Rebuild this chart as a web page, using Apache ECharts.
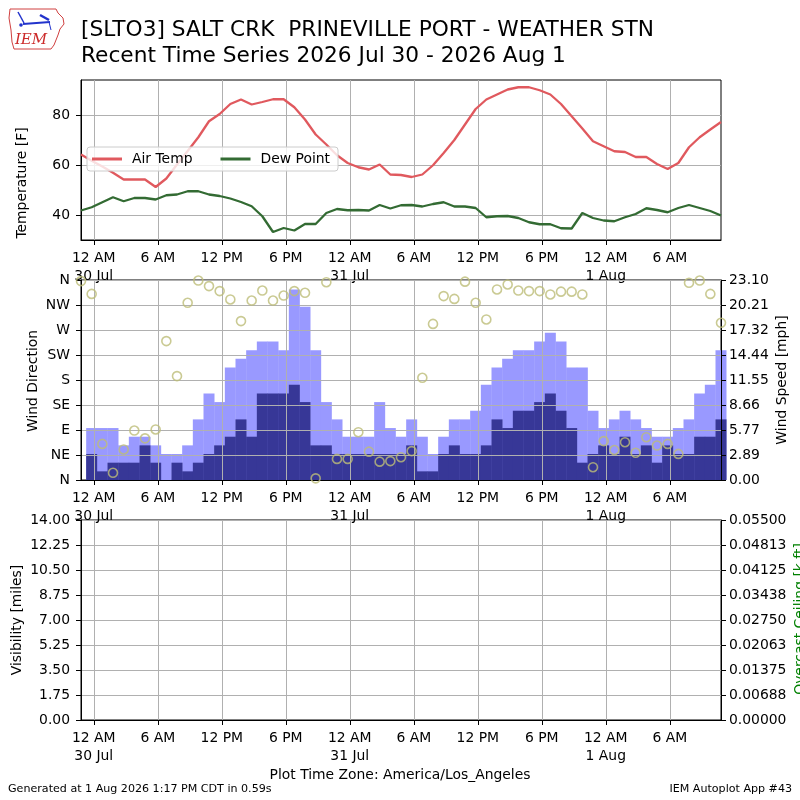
<!DOCTYPE html>
<html>
<head>
<meta charset="utf-8">
<script src="https://cdn.jsdelivr.net/npm/echarts@6/dist/echarts.min.js"></script>
<style>
html, body { margin: 0; padding: 0; background: #fff; }
#main { width: 800px; height: 800px; }
</style>
</head>
<body>
<div id="main"></div>
<script>
// observation times (local, America/Los_Angeles)
var obsTimes = [
    "07-29 22:48", "07-29 23:48",
    "07-30 00:48", "07-30 01:48", "07-30 02:48", "07-30 03:48", "07-30 04:48", "07-30 05:48",
    "07-30 06:48", "07-30 07:48", "07-30 08:48", "07-30 09:48", "07-30 10:48", "07-30 11:48",
    "07-30 12:48", "07-30 13:48", "07-30 14:48", "07-30 15:48", "07-30 16:48", "07-30 17:48",
    "07-30 18:48", "07-30 19:48", "07-30 20:48", "07-30 21:48", "07-30 22:48", "07-30 23:48",
    "07-31 00:48", "07-31 01:48", "07-31 02:48", "07-31 03:48", "07-31 04:48", "07-31 05:48",
    "07-31 06:48", "07-31 07:48", "07-31 08:48", "07-31 09:48", "07-31 10:48", "07-31 11:48",
    "07-31 12:48", "07-31 13:48", "07-31 14:48", "07-31 15:48", "07-31 16:48", "07-31 17:48",
    "07-31 18:48", "07-31 19:48", "07-31 20:48", "07-31 21:48", "07-31 22:48", "07-31 23:48",
    "08-01 00:48", "08-01 01:48", "08-01 02:48", "08-01 03:48", "08-01 04:48", "08-01 05:48",
    "08-01 06:48", "08-01 07:48", "08-01 08:48", "08-01 09:48", "08-01 10:48"
];
var airTemp = [64.3, 61.8, 59.5, 57.0, 54.3, 54.3, 54.3, 51.3, 54.7, 60.3,
    65.7, 71.2, 77.6, 80.5, 84.5, 86.3, 84.3, 85.3, 86.4, 86.4,
    83.2, 78.3, 72.3, 68.3, 64.0, 60.9, 59.2, 58.3, 60.3, 56.3,
    56.1, 55.3, 56.3, 60.0, 64.9, 70.1, 76.3, 82.5, 86.3, 88.3,
    90.3, 91.2, 91.2, 90.0, 88.3, 84.5, 79.6, 74.7, 69.6, 67.6,
    65.6, 65.3, 63.3, 63.3, 60.5, 58.5, 60.9, 67.2, 71.2, 74.3, 77.3];
var dewPoint = [41.9, 43.2, 45.2, 47.2, 45.6, 46.9, 46.9, 46.3, 48.0, 48.3,
    49.6, 49.6, 48.3, 47.7, 46.7, 45.3, 43.6, 39.6, 33.3, 34.9,
    33.9, 36.5, 36.5, 40.9, 42.5, 42.0, 42.1, 41.9, 44.1, 42.7,
    44.0, 44.1, 43.5, 44.5, 45.2, 43.5, 43.5, 42.9, 39.2, 39.6,
    39.7, 38.9, 37.2, 36.4, 36.4, 34.8, 34.7, 40.9, 38.9, 37.9,
    37.6, 39.2, 40.5, 42.8, 42.1, 41.2, 42.9, 44.1, 42.9, 41.7, 39.9];
var windSpeed = [0, 3, 1, 2, 2, 2, 4, 2, 0, 2,
    1, 2, 3, 4, 5, 7, 5, 10, 10, 10,
    11, 9, 4, 4, 3, 3, 3, 3, 3, 3,
    3, 4, 1, 1, 3, 4, 3, 3, 4, 7,
    6, 8, 8, 9, 10, 8, 6, 2, 3, 4,
    3, 5, 3, 4, 2, 4, 3, 3, 5, 5, 7];
var windGust = [0, 6, 6, 6, 4, 5, 5, 4, 3, 3,
    4, 7, 10, 9, 13, 14, 15, 16, 16, 15,
    22, 20, 15, 9, 7, 5, 5, 5, 9, 6,
    5, 7, 5, 3, 5, 7, 7, 8, 11, 13,
    14, 15, 15, 16, 17, 16, 13, 13, 8, 6,
    7, 8, 7, 6, 5, 5, 6, 7, 10, 11, 15];
var windDir = [358, 335, 65, 13, 55, 89, 75, 91, 250, 187,
    319, 359, 349, 340, 325, 286, 323, 341, 323, 332,
    340, 337, 3, 356, 38, 38, 86, 51, 33, 34,
    41, 52, 184, 281, 331, 326, 357, 319, 289, 343,
    352, 341, 340, 340, 334, 339, 339, 334, 23, 70,
    54, 68, 49, 77, 62, 65, 47, 355, 359, 335, 283];

// axis ticks and labels
var xTicks = [0, 6, 12, 18, 24, 30, 36, 42, 48, 54];
var xTickLabels = ["12 AM\n30 Jul", "6 AM", "12 PM", "6 PM", "12 AM\n31 Jul",
    "6 AM", "12 PM", "6 PM", "12 AM\n1 Aug", "6 AM"];
var tempTicks = [40, 60, 80];
var dirLabels = ["N", "NE", "E", "SE", "S", "SW", "W", "NW", "N"];
var speedLabels = ["0.00", "2.89", "5.77", "8.66", "11.55", "14.44", "17.32", "20.21", "23.10"];
var visLabels = ["0.00", "1.75", "3.50", "5.25", "7.00", "8.75", "10.50", "12.25", "14.00"];
var ceilLabels = ["0.00000", "0.00688", "0.01375", "0.02063", "0.02750", "0.03438", "0.04125", "0.04813", "0.05500"];

// hours since 30 Jul 00:00
function toHours(s) {
    var mo = parseInt(s.slice(0, 2), 10), d = parseInt(s.slice(3, 5), 10);
    var hh = parseInt(s.slice(6, 8), 10), mm = parseInt(s.slice(9, 11), 10);
    return (Date.UTC(2026, mo - 1, d, hh, mm) - Date.UTC(2026, 6, 30)) / 3600000;
}
var hrs = obsTimes.map(toHours);
function pairs(vals) {
    return vals.map(function(v, i) { return [hrs[i], v]; });
}

var FONT = "DejaVu Sans";
var gridColor = "#b0b0b0";

function timeAxis(gi, z) {
    return {
        type: "value",
        gridIndex: gi,
        min: -1.2,
        max: 58.8,
        z: z,
        axisLine: { show: true, onZero: false, lineStyle: { color: "#000", width: 1 } },
        axisTick: { show: true, length: 5, customValues: xTicks, lineStyle: { color: "#000", width: 1 } },
        axisLabel: {
            customValues: xTicks,
            color: "#000",
            fontSize: 13.9,
            fontFamily: FONT,
            lineHeight: 18,
            margin: 9,
            formatter: function(v) {
                return xTickLabels[xTicks.indexOf(v)];
            }
        },
        splitLine: { show: true, lineStyle: { color: gridColor, width: 1 } }
    };
}

function lblAxis(gi, pos, min, max, step, labels, showSplit, z) {
    return {
        type: "value",
        gridIndex: gi,
        position: pos,
        min: min,
        max: max,
        interval: step,
        z: z,
        axisLine: { show: true, onZero: false, lineStyle: { color: "#000", width: 1 } },
        axisTick: { show: true, length: 5, lineStyle: { color: "#000", width: 1 } },
        axisLabel: {
            color: "#000",
            fontSize: 13.9,
            fontFamily: FONT,
            margin: pos === "left" ? 11 : 8,
            formatter: function(v) {
                return labels[Math.round((v - min) / step)];
            }
        },
        splitLine: { show: showSplit, lineStyle: { color: gridColor, width: 1 } }
    };
}

var myChart = echarts.init(document.getElementById("main"), null, { renderer: "canvas" });

var option = {
    backgroundColor: "#fff",
    animation: false,
    textStyle: { fontFamily: FONT },
    grid: [
        { left: 81, width: 640, top: 80, height: 160, show: true, borderColor: "#000", borderWidth: 1 },
        { left: 81, width: 640, top: 280, height: 200, show: true, borderColor: "#000", borderWidth: 1 },
        { left: 81, width: 640, top: 520, height: 200, show: true, borderColor: "#000", borderWidth: 1 }
    ],
    legend: {
        left: 87,
        top: 147,
        data: ["Air Temp", "Dew Point"],
        icon: "rect",
        itemWidth: 30,
        itemHeight: 3,
        itemGap: 28,
        padding: [5, 8, 5, 5],
        backgroundColor: "rgba(255,255,255,0.8)",
        borderColor: "#cccccc",
        borderWidth: 1,
        borderRadius: 3,
        textStyle: { color: "#000", fontSize: 13.9, fontFamily: FONT, padding: [0, 0, 0, 5] }
    },
    xAxis: [timeAxis(0, 0), timeAxis(1, 3), timeAxis(2, 0)],
    yAxis: [
        {
            type: "value",
            gridIndex: 0,
            min: 30.1,
            max: 94.1,
            axisLine: { show: true, onZero: false, lineStyle: { color: "#000", width: 1 } },
            axisTick: { show: true, length: 5, customValues: tempTicks, lineStyle: { color: "#000", width: 1 } },
            axisLabel: { customValues: tempTicks, color: "#000", fontSize: 13.9, fontFamily: FONT, margin: 11 },
            splitLine: { show: true, lineStyle: { color: gridColor, width: 1 } }
        },
        lblAxis(1, "left", 0, 360, 45, dirLabels, true, 3),
        lblAxis(1, "right", 0, 23.1, 2.8875, speedLabels, false, 3),
        lblAxis(2, "left", 0, 14, 1.75, visLabels, true, 0),
        lblAxis(2, "right", 0, 0.055, 0.006875, ceilLabels, false, 0)
    ],
    series: [
        {
            name: "Air Temp",
            type: "line",
            xAxisIndex: 0,
            yAxisIndex: 0,
            symbol: "none",
            data: pairs(airTemp),
            lineStyle: { color: "#e0595e", width: 2.3 },
            itemStyle: { color: "#e0595e" }
        },
        {
            name: "Dew Point",
            type: "line",
            xAxisIndex: 0,
            yAxisIndex: 0,
            symbol: "none",
            data: pairs(dewPoint),
            lineStyle: { color: "#336b33", width: 2.3 },
            itemStyle: { color: "#336b33" }
        },
        {
            name: "Gust",
            type: "bar",
            xAxisIndex: 1,
            yAxisIndex: 2,
            barWidth: 11,
            barGap: "-100%",
            z: 1,
            data: pairs(windGust),
            itemStyle: { color: "#9999ff" }
        },
        {
            name: "Speed",
            type: "bar",
            xAxisIndex: 1,
            yAxisIndex: 2,
            barWidth: 11,
            barGap: "-100%",
            z: 2,
            data: pairs(windSpeed),
            itemStyle: { color: "#373797" }
        },
        {
            name: "Direction",
            type: "scatter",
            xAxisIndex: 1,
            yAxisIndex: 1,
            symbol: "circle",
            symbolSize: 9,
            z: 5,
            clip: true,
            data: pairs(windDir),
            itemStyle: { color: "rgba(0,0,0,0)", borderColor: "#bdbd78", borderWidth: 1.6 }
        }
    ],
    graphic: [
        // IEM logo (rough)
        {
            type: "polyline",
            shape: { points: [[10, 9], [56, 9], [58, 13], [63, 18], [64, 24], [60, 29], [58, 35], [56, 40], [54, 45], [51, 49], [14, 49], [12, 42], [11, 30], [9, 18], [10, 9]] },
            style: { stroke: "#d04040", lineWidth: 1, fill: null }
        },
        {
            type: "text", x: 31, y: 40,
            style: { text: "IEM", fill: "#cc2a2a", font: "italic 15px 'DejaVu Serif'", align: "center", verticalAlign: "middle", textAlign: "center", textVerticalAlign: "middle" }
        },
        { type: "line", shape: { x1: 23, y1: 24, x2: 50, y2: 22 }, style: { stroke: "#2233cc", lineWidth: 2 } },
        { type: "line", shape: { x1: 18, y1: 12, x2: 24, y2: 23 }, style: { stroke: "#2233cc", lineWidth: 1.5 } },
        { type: "line", shape: { x1: 40, y1: 15, x2: 49, y2: 20 }, style: { stroke: "#2233cc", lineWidth: 2.5 } },
        { type: "line", shape: { x1: 49, y1: 22, x2: 51, y2: 30 }, style: { stroke: "#2233cc", lineWidth: 1 } },
        { type: "circle", shape: { cx: 21, cy: 25, r: 1.8 }, style: { fill: "#2233cc" } },
        // titles
        {
            type: "text", x: 81, y: 30,
            style: { text: "[SLTO3] SALT CRK  PRINEVILLE PORT - WEATHER STN", fill: "#000", font: "21.7px 'DejaVu Sans'", align: "left", verticalAlign: "middle", textAlign: "left", textVerticalAlign: "middle" }
        },
        {
            type: "text", x: 81, y: 56,
            style: { text: "Recent Time Series 2026 Jul 30 - 2026 Aug 1", fill: "#000", font: "21.7px 'DejaVu Sans'", align: "left", verticalAlign: "middle", textAlign: "left", textVerticalAlign: "middle" }
        },
        // axis names
        {
            type: "text", x: 22, y: 183, rotation: Math.PI / 2,
            style: { text: "Temperature [F]", fill: "#000", font: "13.9px 'DejaVu Sans'", align: "center", verticalAlign: "middle", textAlign: "center", textVerticalAlign: "middle" }
        },
        {
            type: "text", x: 33, y: 381, rotation: Math.PI / 2,
            style: { text: "Wind Direction", fill: "#000", font: "13.9px 'DejaVu Sans'", align: "center", verticalAlign: "middle", textAlign: "center", textVerticalAlign: "middle" }
        },
        {
            type: "text", x: 782, y: 380, rotation: Math.PI / 2,
            style: { text: "Wind Speed [mph]", fill: "#000", font: "13.9px 'DejaVu Sans'", align: "center", verticalAlign: "middle", textAlign: "center", textVerticalAlign: "middle" }
        },
        {
            type: "text", x: 17, y: 620, rotation: Math.PI / 2,
            style: { text: "Visibility [miles]", fill: "#000", font: "13.9px 'DejaVu Sans'", align: "center", verticalAlign: "middle", textAlign: "center", textVerticalAlign: "middle" }
        },
        {
            type: "text", x: 800, y: 619, rotation: Math.PI / 2,
            style: { text: "Overcast Ceiling [k ft]", fill: "#008000", font: "13.9px 'DejaVu Sans'", align: "center", verticalAlign: "middle", textAlign: "center", textVerticalAlign: "middle" }
        },
        // footer
        {
            type: "text", x: 400, y: 775,
            style: { text: "Plot Time Zone: America/Los_Angeles", fill: "#000", font: "13.9px 'DejaVu Sans'", align: "center", verticalAlign: "middle", textAlign: "center", textVerticalAlign: "middle" }
        },
        {
            type: "text", x: 8, y: 789,
            style: { text: "Generated at 1 Aug 2026 1:17 PM CDT in 0.59s", fill: "#000", font: "11.1px 'DejaVu Sans'", align: "left", verticalAlign: "middle", textAlign: "left", textVerticalAlign: "middle" }
        },
        {
            type: "text", x: 792, y: 789,
            style: { text: "IEM Autoplot App #43", fill: "#000", font: "11.1px 'DejaVu Sans'", align: "right", verticalAlign: "middle", textAlign: "right", textVerticalAlign: "middle" }
        }
    ]
};

myChart.setOption(option);

window.addEventListener("resize", function() {
    myChart.resize();
});
</script>
</body>
</html>
